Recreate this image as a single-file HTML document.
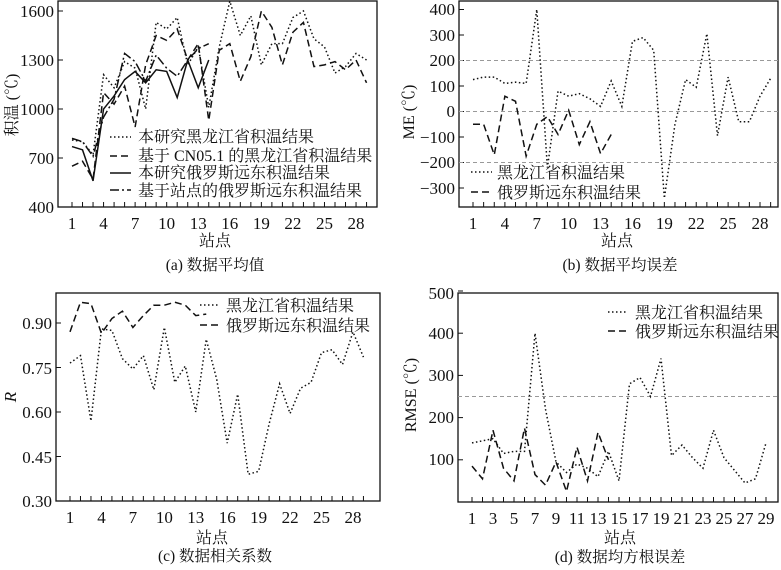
<!DOCTYPE html>
<html><head><meta charset="utf-8"><style>
body{margin:0;background:#fff;width:781px;height:570px;overflow:hidden}
svg{display:block}
text{font-family:"Liberation Serif","Noto Serif CJK SC",serif;fill:#111}
.t{font-size:16px}
.n{font-size:17px}
.c{font-size:15.5px}
</style></head><body>
<svg id="s" width="781" height="570" xmlns="http://www.w3.org/2000/svg">
<g class="n" text-anchor="end">
<text x="54" y="17">1600</text><text x="54" y="66">1300</text><text x="54" y="115">1000</text><text x="54" y="164">700</text><text x="54" y="213">400</text>
<text x="455" y="15">400</text><text x="455" y="41">300</text><text x="455" y="66">200</text><text x="455" y="92">100</text><text x="455" y="117">0</text><text x="455" y="143">−100</text><text x="455" y="168">−200</text><text x="455" y="194">−300</text>
<text x="52" y="329">0.90</text><text x="52" y="374">0.75</text><text x="52" y="418">0.60</text><text x="52" y="463">0.45</text><text x="52" y="507">0.30</text>
<text x="454" y="299">500</text><text x="454" y="339">400</text><text x="454" y="381">300</text><text x="454" y="423">200</text><text x="454" y="465">100</text>
</g>
<g class="n" id="xl" text-anchor="middle"></g>
<g class="t" text-anchor="middle">
<text x="215" y="246">站点</text><text x="617" y="246">站点</text>
<text x="212" y="543">站点</text><text x="620" y="543">站点</text>
</g>
<g class="c" text-anchor="middle">
<text x="215" y="270">(a) 数据平均值</text><text x="620" y="270">(b) 数据平均误差</text>
<text x="215" y="561">(c) 数据相关系数</text><text x="620" y="562">(d) 数据均方根误差</text>
</g>
<text class="t" text-anchor="middle" transform="translate(17,105) rotate(-90)">积温 (℃)</text>
<text class="t" text-anchor="middle" transform="translate(414,112) rotate(-90)">ME (℃)</text>
<text class="n" text-anchor="middle" font-style="italic" transform="translate(16,397) rotate(-90)">R</text>
<text class="t" text-anchor="middle" transform="translate(416,395) rotate(-90)">RMSE (℃)</text>
<g class="t">
<text x="138" y="142">本研究黑龙江省积温结果</text>
<text x="138" y="161">基于 CN05.1 的黑龙江省积温结果</text>
<text x="138" y="178">本研究俄罗斯远东积温结果</text>
<text x="138" y="196">基于站点的俄罗斯远东积温结果</text>
<text x="497" y="178">黑龙江省积温结果</text>
<text x="497" y="198">俄罗斯远东积温结果</text>
<text x="226" y="311">黑龙江省积温结果</text>
<text x="226" y="331">俄罗斯远东积温结果</text>
<text x="635" y="318">黑龙江省积温结果</text>
<text x="635" y="337">俄罗斯远东积温结果</text>
</g>
<g id="g" fill="none" stroke="#111"></g>
</svg>
<script>
var NS="http://www.w3.org/2000/svg",g=document.getElementById('g'),xl=document.getElementById('xl');
function el(t,a,p){var e=document.createElementNS(NS,t);for(var k in a)e.setAttribute(k,a[k]);(p||g).appendChild(e);return e}
var DOT="1.5,2.5",DASH="7,4",DD="9,3,2,3";
function panel(P){
 el('rect',{x:P.l,y:P.t,width:P.r-P.l,height:P.b-P.t,'stroke-width':1.3});
 function X(i){return P.x1+(i-1)*P.dx} function Y(v){return P.b-(v-P.v0)*P.vs}
 P.yt.forEach(function(v){var y=Y(v);el('line',{x1:P.l,x2:P.l+5,y1:y,y2:y})});
 for(var i=1;i<=29;i++){el('line',{x1:X(i),x2:X(i),y1:P.b,y2:P.b-5})}
 P.xt.forEach(function(i){var t=el('text',{x:X(i),y:P.b+22},xl);t.textContent=i});
 (P.h||[]).forEach(function(v){el('line',{x1:P.l,x2:P.r,y1:Y(v),y2:Y(v),stroke:'#999','stroke-dasharray':'4,3'})});
 P.s.forEach(function(s){el('polyline',{points:s.d.map(function(v,i){return X(i+1)+','+Y(v)}).join(' '),'stroke-dasharray':s.st||'','stroke-width':s.w||1.5})});
 (P.lg||[]).forEach(function(L){el('line',{x1:L[0],x2:L[1],y1:L[2],y2:L[2],'stroke-dasharray':L[3]||'','stroke-width':1.6})});
}
panel({l:58,r:377,t:1,b:207,x1:72,dx:10.52,v0:400,vs:196/1200,yt:[400,700,1000,1300,1600],xt:[1,4,7,10,13,16,19,22,25,28],
s:[{d:[810,800,720,1210,1130,1290,1250,1000,1530,1490,1560,1270,1380,1010,1380,1660,1450,1570,1270,1400,1400,1560,1600,1430,1380,1220,1260,1340,1300],st:DOT},
{d:[650,680,570,1100,1030,1140,890,1270,1450,1420,1490,1300,1400,930,1360,1400,1170,1320,1600,1500,1270,1470,1530,1260,1270,1290,1240,1300,1160],st:DASH},
{d:[770,750,560,1000,1080,1180,1230,1160,1240,1230,1070,1300,1130,1300]},
{d:[820,800,710,950,1060,1340,1290,1170,1330,1250,1200,1300,1370,1400],st:DD}],
lg:[[110,131,137,DOT],[110,131,156,DASH],[110,131,173,''],[110,131,190,DD]]});
panel({l:459,r:778,t:1,b:207,x1:473,dx:10.63,v0:-374.5,vs:25.5/100,yt:[-300,-200,-100,0,100,200,300,400],xt:[1,4,7,10,13,16,19,22,25,28],h:[200,0,-200],
s:[{d:[125,135,135,110,115,110,400,-220,80,60,70,50,20,120,20,275,290,240,-340,-50,125,95,305,-95,135,-40,-40,60,130],st:DOT},
{d:[-50,-50,-170,60,40,-175,-50,-20,-90,5,-130,-40,-165,-90],st:DASH}],
lg:[[471,492,172,DOT],[471,492,192,DASH]]});
panel({l:56,r:380,t:293,b:501,x1:70,dx:10.48,v0:0.30,vs:44.5/0.15,yt:[0.3,0.45,0.6,0.75,0.9],xt:[1,4,7,10,13,16,19,22,25,28],
s:[{d:[0.765,0.79,0.57,0.88,0.875,0.78,0.745,0.79,0.675,0.885,0.70,0.755,0.60,0.845,0.71,0.495,0.66,0.39,0.40,0.56,0.695,0.595,0.68,0.70,0.80,0.81,0.76,0.87,0.785],st:DOT},
{d:[0.87,0.97,0.965,0.865,0.915,0.94,0.885,0.925,0.96,0.96,0.97,0.96,0.925,0.93],st:DASH}],
lg:[[200,220,305,DOT],[200,220,325,DASH]]});
panel({l:458,r:778,t:293,b:502,x1:472,dx:10.5,v0:0,vs:42.2/100,yt:[100,200,300,400,500],xt:[1,3,5,7,9,11,13,15,17,19,21,23,25,27,29],h:[250],
s:[{d:[140,145,150,115,120,120,400,220,95,70,90,80,60,120,50,280,295,250,340,110,135,105,80,170,105,75,45,55,140],st:DOT},
{d:[85,55,170,80,50,175,65,40,95,25,130,50,165,100],st:DASH}],
lg:[[608,628,312,DOT],[608,628,331,DASH]]});
</script>
</body></html>
